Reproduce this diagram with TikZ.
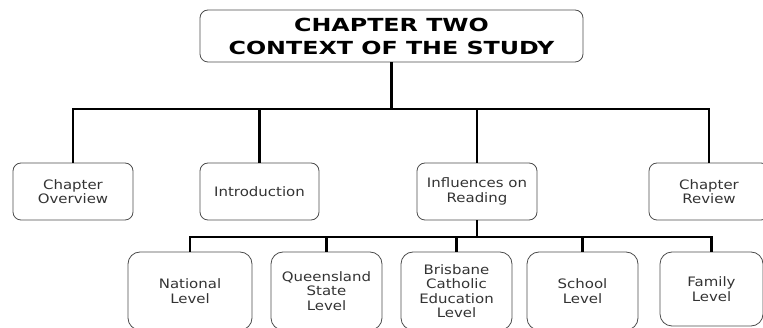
\documentclass[tikz,border=0pt]{standalone}
\usepackage{fontspec}
\usepackage{tikz}
\newfontfamily\titlefont{DejaVu Sans}[FakeStretch=1.32]
\newfontfamily\boxfont{DejaVu Sans}[FakeStretch=1.15]

\begin{document}
\begin{tikzpicture}[x=1pt,y=-1pt,
    box/.style={draw=black!70,line width=0.8pt,rounded corners=8pt,align=center,
      inner sep=0pt,text=black!80,font=\boxfont\fontsize{13}{14.5}\selectfont},
    lowbox/.style={box,rounded corners=12pt},
    link/.style={line width=2.6pt,line join=miter}]
          \useasboundingbox (0,0) rectangle (763,328);
          \clip (0,0) rectangle (763,328);
          \node[box,text=black,rounded corners=8pt,minimum width=383pt,minimum height=52pt,
            font=\titlefont\bfseries\fontsize{18}{23}\selectfont] (title) at (391.5,36)
            {CHAPTER TWO\\CONTEXT OF THE STUDY};
          \node[box,minimum width=120pt,minimum height=57pt] (over) at (73,191.5) {Chapter\\Overview};
          \node[box,minimum width=119pt,minimum height=57pt] (intro) at (259.5,191.5) {Introduction};
          \node[box,minimum width=120pt,minimum height=57pt] (infl) at (477,191.5) {Influences on\\Reading};
          \node[box,minimum width=120pt,minimum height=57pt] (review) at (709,191.5) {Chapter\\Review};
          \node[lowbox,minimum width=124pt,minimum height=78pt] (national) at (190,291) {National\\Level};
          \node[lowbox,minimum width=111pt,minimum height=78pt] (qld) at (326.5,291) {Queensland\\State\\Level};
          \node[lowbox,minimum width=111pt,minimum height=78pt] (bce) at (456.5,291) {Brisbane\\Catholic\\Education\\Level};
          \node[lowbox,minimum width=111pt,minimum height=78pt] (school) at (582.5,291) {School\\Level};
          \node[lowbox,minimum width=103pt,minimum height=74pt] (family) at (711.5,289) {Family\\Level};
          \coordinate (barone) at (0,109);
          \coordinate (bartwo) at (0,237);
          \draw[link] (title.south) -- (title.south |- barone);
          \draw[link] (over.north) |- (review.north |- barone) -- (review.north);
          \foreach \n in {intro,infl}
            \draw[link] (\n.north) -- (\n.north |- barone);
          \draw[link] (infl.south) -- (infl.south |- bartwo);
          \draw[link] (national.north) |- (family.north |- bartwo) -- (family.north);
          \foreach \n in {qld,bce,school}
            \draw[link] (\n.north) -- (\n.north |- bartwo);
        \end{tikzpicture}
\end{document}
